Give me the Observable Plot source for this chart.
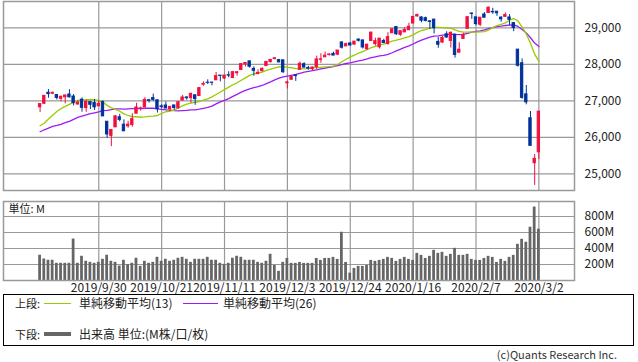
<!DOCTYPE html>
<html><head><meta charset="utf-8">
<script src="https://cdn.jsdelivr.net/npm/d3@7"></script>
<script src="https://cdn.jsdelivr.net/npm/@observablehq/plot@0.6"></script>
<style>
body{margin:0;background:#fff;}
#wrap{position:relative;width:638px;height:362px;overflow:hidden;font-family:"Noto Sans CJK JP",sans-serif;color:#222;background:#fff;}
#top{position:absolute;left:0;top:0;}
#vol{position:absolute;left:0;top:198px;}
#legend{position:absolute;left:3px;top:294px;width:629px;height:50px;border:1px solid #000;font-size:12px;}
#legend span{position:absolute;white-space:nowrap;line-height:14px;}
#legend span.h{font-size:11px;}
#legend i{position:absolute;display:block;}
#copy{position:absolute;right:21px;top:348px;font-size:11px;line-height:13px;color:#333;white-space:nowrap;}
</style></head>
<body><div id="wrap"><div id="top"></div><div id="vol"></div>
<div id="legend">
<span class="h" style="left:11px;top:1px">上段:</span><i style="left:40px;top:8px;width:27px;height:1px;background:#99cc00"></i><span style="left:75px;top:1px">単純移動平均(13)</span>
<i style="left:179px;top:8px;width:35px;height:1px;background:#9d1cf5"></i><span style="left:219px;top:1px">単純移動平均(26)</span>
<span class="h" style="left:11px;top:32px">下段:</span><i style="left:40px;top:37px;width:27px;height:4px;background:#666"></i><span style="left:75px;top:32px">出来高 単位:(M株/口/枚)</span>
</div>
<div id="copy">(c)Quants Research Inc.</div>
</div>
<script>
const dates = ["2019/9/10","2019/9/11","2019/9/12","2019/9/13","2019/9/16","2019/9/17","2019/9/18","2019/9/19","2019/9/20","2019/9/23","2019/9/24","2019/9/25","2019/9/26","2019/9/27","2019/9/30",
"2019/10/1","2019/10/2","2019/10/3","2019/10/4","2019/10/7","2019/10/8","2019/10/9","2019/10/10","2019/10/11","2019/10/14","2019/10/15","2019/10/16","2019/10/17","2019/10/18","2019/10/21",
"2019/10/22","2019/10/23","2019/10/24","2019/10/25","2019/10/28","2019/10/29","2019/10/30","2019/10/31","2019/11/1","2019/11/4","2019/11/5","2019/11/6","2019/11/7","2019/11/8","2019/11/11",
"2019/11/12","2019/11/13","2019/11/14","2019/11/15","2019/11/18","2019/11/19","2019/11/20","2019/11/21","2019/11/22","2019/11/25","2019/11/26","2019/11/27","2019/11/29","2019/12/2","2019/12/3",
"2019/12/4","2019/12/5","2019/12/6","2019/12/9","2019/12/10","2019/12/11","2019/12/12","2019/12/13","2019/12/16","2019/12/17","2019/12/18","2019/12/19","2019/12/20","2019/12/23","2019/12/24",
"2019/12/26","2019/12/27","2019/12/30","2019/12/31","2020/1/2","2020/1/3","2020/1/6","2020/1/7","2020/1/8","2020/1/9","2020/1/10","2020/1/13","2020/1/14","2020/1/15","2020/1/16",
"2020/1/17","2020/1/21","2020/1/22","2020/1/23","2020/1/24","2020/1/27","2020/1/28","2020/1/29","2020/1/30","2020/1/31","2020/2/3","2020/2/4","2020/2/5","2020/2/6","2020/2/7",
"2020/2/10","2020/2/11","2020/2/12","2020/2/13","2020/2/14","2020/2/18","2020/2/19","2020/2/20","2020/2/21","2020/2/24","2020/2/25","2020/2/26","2020/2/27","2020/2/28","2020/3/2"];

const open = [26822,26920,27220,27194,27158,27055,27095,27172,27117,26900,27030,26800,26965,26940,26849,
26962,26426,26039,26272,26548,26346,26300,26339,26647,26786,26819,27015,27075,27013,26846,
26871,26770,26873,26798,27008,27090,27071,27151,27130,27443,27496,27498,27562,27690,27610,
27700,27624,27757,27843,28000,28080,27875,27730,27812,27951,28061,28144,28115,28109,27480,
27576,27696,27848,28002,27900,27868,27922,28123,28191,28253,28284,28263,28600,28491,28572,
28539,28676,28654,28415,28639,28553,28466,28639,28556,28851,29020,28808,28875,28933,29117,
29313,29284,29263,29175,29222,28614,28596,28820,28641,28813,28319,28697,28973,29390,29286,
29084,29365,29406,29436,29441,29278,29300,29283,29129,28402,28028,27177,26521,25290,25590];
const high = [26922,27138,27306,27236,27162,27123,27151,27306,27172,27003,27080,27014,26988,27040,26998,
26999,26426,26208,26591,26630,26477,26440,26648,26933,26828,27086,27038,27183,27030,26892,
26967,26838,26873,26980,27147,27111,27215,27151,27347,27518,27574,27506,27775,27692,27692,
27795,27798,27800,28005,28049,28090,27931,27848,27901,28071,28122,28175,28134,28109,27539,
27698,27697,28063,28044,27949,27925,28224,28290,28337,28290,28331,28377,28608,28582,28576,
28621,28701,28664,28548,28873,28716,28709,28685,28866,28973,29036,28908,29009,29127,29301,
29373,29298,29294,29198,29238,28736,28760,28892,28892,28814,28592,28849,29292,29408,29286,
29277,29416,29568,29535,29441,29306,29409,29360,29129,28402,28149,27419,26706,25530,26706];
const low = [26680,26900,27071,27170,27022,26974,26916,27080,26860,26880,26689,26683,26762,26733,26849,
26571,25974,25743,26272,26424,26160,26250,26276,26647,26717,26819,26938,26987,26666,26778,
26785,26700,26740,26770,27006,27016,26933,26877,27130,27398,27447,27410,27562,27521,27588,
27630,27610,27675,27843,27929,27894,27675,27718,27790,27951,28031,28120,28044,27750,27325,
27576,27532,27848,27906,27840,27823,27859,28028,28191,28225,28237,28236,28418,28491,28503,
28535,28608,28419,28376,28627,28501,28418,28565,28523,28851,28791,28768,28867,28932,29117,
29289,29139,29159,28952,28832,28440,28573,28712,28446,28169,28319,28697,28973,29232,29056,
29033,29274,29406,29371,29315,29155,29292,29058,28894,27922,27042,26889,25755,24681,25391];
const close = [26909.43,27137.04,27182.45,27219.52,27076.82,27110.80,27147.08,27094.79,26935.07,26949.99,26807.77,26970.71,26891.12,26820.25,26916.83,
26573.04,26078.62,26201.04,26573.72,26478.02,26164.04,26346.01,26496.67,26816.59,26787.36,27024.80,27001.98,27025.88,26770.20,26827.64,
26788.10,26833.95,26805.53,26958.06,27090.72,27071.42,27186.69,27046.23,27347.36,27462.11,27492.63,27492.56,27674.80,27681.24,27691.49,
27691.49,27783.59,27781.96,28004.89,28036.22,27934.02,27821.09,27766.29,27875.62,28066.47,28121.68,28164.00,28051.41,27783.04,27502.81,
27649.78,27677.79,28015.06,27909.60,27881.72,27911.30,28132.05,28135.38,28235.89,28267.16,28239.28,28376.96,28455.09,28551.53,28515.45,
28621.39,28645.26,28462.14,28538.44,28868.80,28634.88,28703.38,28583.68,28745.09,28956.90,28823.77,28907.05,28939.67,29030.22,29297.64,
29348.10,29196.04,29186.27,29160.09,28989.73,28535.80,28722.85,28734.45,28859.44,28256.03,28399.81,28807.63,29290.85,29379.77,29102.51,
29276.82,29276.34,29551.42,29423.31,29398.08,29232.19,29348.03,29219.98,28992.41,27960.80,27081.36,26957.59,25766.64,25409.36,26703.32];
// closes of the 25 sessions before the first candle (needed for the moving averages)
const priorCloses = [25717.74,26029.52,26007.07,26378.19,26287.44,25896.44,26279.91,25479.42,25579.39,25886.01,26135.79,25962.44,26202.73,
26252.24,25628.90,25898.83,25777.90,26036.10,26362.25,26403.28,26118.02,26355.47,26728.15,26797.46,26835.51];
const volume = [316,269,253,253,215,215,215,215,518,215,303,240,227,215,227,
265,316,240,227,181,253,198,215,278,177,240,215,227,290,240,
265,240,253,278,290,265,227,265,265,265,290,253,253,215,202,
215,278,303,290,253,253,253,227,215,240,328,189,114,227,276,
214,214,226,214,214,214,276,251,276,276,289,264,603,226,92,
151,176,176,189,251,239,251,264,289,276,239,264,289,264,251,
339,314,276,302,377,339,352,302,327,402,314,314,327,264,251,
251,276,302,289,226,264,239,289,314,453,515,478,666,918,641];

const xTickIdx = [14,29,44,59,74,89,104,119];
const xTickLabels = ["2019/9/30","2019/10/21","2019/11/11","2019/12/3","2019/12/24","2020/1/16","2020/2/7","2020/3/2"];
const yTicks = [25000,26000,27000,28000,29000];
const volTicks = [200,400,600,800];

const UP = "#f2103f", DOWN = "#00339a", GRID = "#999";
const candles = dates.map((d,i)=>({i, date:d, o:open[i], h:high[i], l:low[i], c:close[i], col: close[i] >= open[i] ? UP : DOWN}));
const allC = priorCloses.concat(close);
const ma = k => close.map((_,i)=>({i, v: d3.mean(allC.slice(priorCloses.length+i-k+1, priorCloses.length+i+1))}));
const ma13 = ma(13), ma26 = ma(26);
const vols = volume.map((v,i)=>({i, v}));
const xDom = [-8.73, 127.5];
const font = {fontFamily:'"Noto Sans CJK JP", sans-serif', fontSize:"12px", color:"#222", background:"transparent"};

const topChart = Plot.plot({
  width:638, height:192, marginLeft:3, marginRight:64, marginTop:1, marginBottom:2,
  style: font,
  x:{domain:xDom, axis:null},
  y:{domain:[24542.5, 29720.5], axis:null},
  color:{type:"identity"},
  marks:[
    Plot.ruleY(yTicks, {stroke:GRID, strokeWidth:1.2}),
    Plot.ruleX(xTickIdx, {stroke:GRID, strokeWidth:1.2}),
    Plot.line(ma26, {x:"i", y:"v", stroke:"#9d1cf5", strokeWidth:1.3}),
    Plot.line(ma13, {x:"i", y:"v", stroke:"#99cc00", strokeWidth:1.3}),
    Plot.ruleX(candles, {x:"i", y1:"l", y2:"h", stroke:"col", strokeWidth:1}),
    Plot.rect(candles, {x1:d=>d.i-0.28, x2:d=>d.i+0.28, y1:"o", y2:"c", fill:"col", stroke:"col", strokeWidth:1}),
    Plot.axisY(yTicks, {anchor:"right", label:null, tickSize:0, tickPadding:10, tickFormat:d3.format(","), fontSize:12}),
    Plot.frame({stroke:GRID, strokeWidth:1.5})
  ]
});
document.getElementById("top").appendChild(topChart);

const volChart = Plot.plot({
  width:638, height:100, marginLeft:3, marginRight:64, marginTop:3, marginBottom:18,
  style: font,
  x:{domain:xDom, axis:null},
  y:{domain:[0, 987.5], axis:null},
  marks:[
    Plot.ruleY(volTicks, {stroke:GRID, strokeWidth:1.2}),
    Plot.ruleX(xTickIdx, {stroke:GRID, strokeWidth:1.2}),
    Plot.rectY(vols, {x1:d=>d.i-0.33, x2:d=>d.i+0.33, y:"v", fill:"#666"}),
    Plot.axisY(volTicks, {anchor:"right", label:null, tickSize:0, tickPadding:10, tickFormat:d=>d+"M", fontSize:12}),
    Plot.axisX(xTickIdx, {anchor:"bottom", label:null, tickSize:0, tickPadding:3, tickFormat:d=>xTickLabels[xTickIdx.indexOf(d)], fontSize:12}),
    Plot.text(["単位: M"], {frameAnchor:"top-left", dx:5, dy:4, textAnchor:"start", lineAnchor:"top", fontSize:11, fill:"#222"}),
    Plot.frame({stroke:GRID, strokeWidth:1.5})
  ]
});
document.getElementById("vol").appendChild(volChart);
</script>
</body></html>
